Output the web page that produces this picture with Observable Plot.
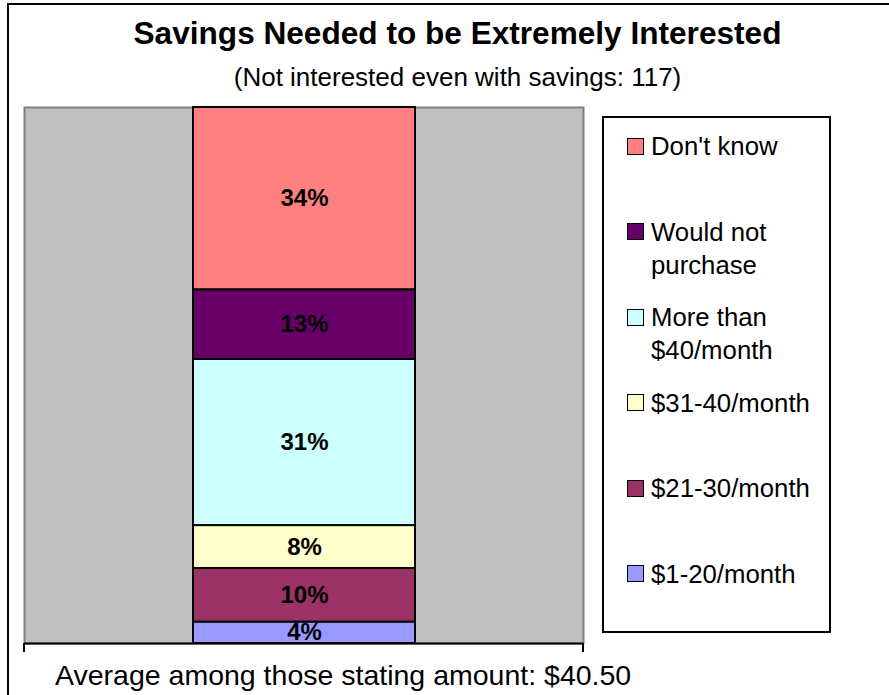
<!DOCTYPE html>
<html>
<head>
<meta charset="utf-8">
<script src="https://cdn.jsdelivr.net/npm/d3@7"></script>
<script src="https://cdn.jsdelivr.net/npm/@observablehq/plot@0.6"></script>
<style>
  html, body { margin: 0; padding: 0; background: #fff; overflow: hidden; }
  #root { position: relative; width: 889px; height: 695px; overflow: hidden;
          font-family: "Liberation Sans", Arial, Helvetica, sans-serif; color: #000; }
  #frame { position: absolute; left: 7px; top: 3px; width: 1000px; height: 1000px;
           border-left: 2px solid #000; border-top: 2px solid #000; }
  .t { position: absolute; left: 13px; width: 889px; text-align: center; line-height: 1; white-space: nowrap; }
  #title { top: 18px; font-size: 31.6px; font-weight: bold; }
  #subtitle { top: 64px; font-size: 26px; }
  #caption { position: absolute; left: 55px; top: 661px; font-size: 28.5px; line-height: 1; white-space: nowrap; }
  #chart { position: absolute; left: 0; top: 95px; }
  #legend { position: absolute; left: 602px; top: 116px; width: 225px; height: 513px;
            border: 2px solid #000; background: #fff; display: grid; grid-template-rows: repeat(6, 1fr); }
  .item { display: flex; align-items: flex-start; padding: 12px 0 0 23px; font-size: 25.75px; line-height: 33px; }
  .sw { flex: none; width: 15px; height: 15px; border: 1.5px solid #000; margin: 7.5px 7px 0 0; }
  .lab { max-width: 175px; }
</style>
</head>
<body>
<div id="root">
  <div id="frame"></div>
  <div id="title" class="t"></div>
  <div id="subtitle" class="t"></div>
  <div id="chart"></div>
  <div id="legend"></div>
  <div id="caption"></div>
</div>
<script>
// Data (bottom of stack first)
const categories = ["$1-20/month", "$21-30/month", "$31-40/month", "More than $40/month", "Would not purchase", "Don't know"];
const values = [4, 10, 8, 31, 13, 34];
const colors = ["#9999FF", "#993366", "#FFFFCC", "#CCFFFF", "#660066", "#FF8080"];
const titleText = "Savings Needed to be Extremely Interested";
const subtitleText = "(Not interested even with savings: 117)";
const captionText = "Average among those stating amount: $40.50";

document.getElementById("title").textContent = titleText;
document.getElementById("subtitle").textContent = subtitleText;
document.getElementById("caption").textContent = captionText;

const rows = categories.map((c, i) => ({group: "All", category: c, value: values[i]}));

const edgeTicks = (index, scales, values, dims) => {
  const g = d3.create("svg:g");
  const yb = dims.height - dims.marginBottom;
  for (const x of [dims.marginLeft, dims.width - dims.marginRight]) {
    g.append("line").attr("x1", x).attr("x2", x).attr("y1", yb).attr("y2", yb + 9)
      .attr("stroke", "#000").attr("stroke-width", 2);
  }
  return g.node();
};

const chart = Plot.plot({
  width: 600,
  height: 565,
  marginLeft: 24,
  marginRight: 17,
  marginTop: 12,
  marginBottom: 17,
  style: {fontFamily: "'Liberation Sans', Arial, sans-serif", background: "transparent", overflow: "visible"},
  x: {type: "band", domain: ["All"], padding: 0.4316, axis: null},
  y: {domain: [0, 100], axis: null},
  color: {domain: categories, range: colors},
  marks: [
    Plot.frame({fill: "#C0C0C0", stroke: "#808080", strokeWidth: 2}),
    Plot.barY(rows, {x: "group", y: "value", fill: "category", stroke: "#000", strokeWidth: 2}),
    Plot.ruleY([0], {stroke: "#000", strokeWidth: 2}),
    edgeTicks,
    Plot.text(rows, Plot.stackY({x: "group", y: "value", text: d => d.value + "%",
      fill: "#000", fontWeight: "bold", fontSize: 24}))
  ]
});
document.getElementById("chart").appendChild(chart);

// Legend (top of stack first)
const legend = document.getElementById("legend");
for (let i = categories.length - 1; i >= 0; i--) {
  const item = document.createElement("div");
  item.className = "item";
  const sw = document.createElement("div");
  sw.className = "sw";
  sw.style.background = colors[i];
  const lab = document.createElement("div");
  lab.className = "lab";
  lab.textContent = categories[i];
  item.appendChild(sw);
  item.appendChild(lab);
  legend.appendChild(item);
}
</script>
</body>
</html>
